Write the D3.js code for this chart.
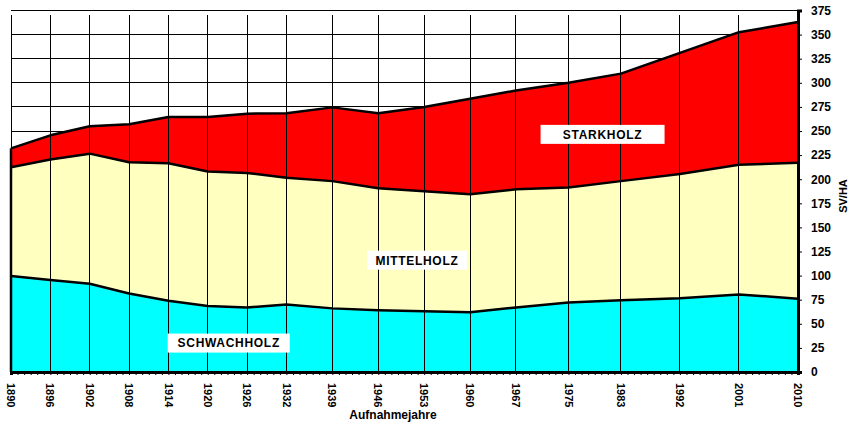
<!DOCTYPE html>
<html>
<head>
<meta charset="utf-8">
<script src="https://cdn.jsdelivr.net/npm/d3@7/dist/d3.min.js"></script>
<style>
  body { margin: 0; background: #fff; }
  text { font-family: "Liberation Sans", Arial, sans-serif; font-weight: bold; fill: #000; }
</style>
</head>
<body>
<div id="chart"></div>
<script>
// survey years
const years = [1890, 1896, 1902, 1908, 1914, 1920, 1926, 1932, 1939, 1946, 1953, 1960, 1967, 1975, 1983, 1992, 2001, 2010];
// volume per diameter class (SV/HA)
const schwachholz = [99.5, 95.5, 91.5, 81.5, 74, 68.5, 67, 70, 66, 64, 63, 62, 67, 72, 74.5, 76.5, 80.5, 76];
const mittelholz = [113, 125, 135, 136, 142.5, 139.5, 139.5, 131.5, 132, 126.5, 124.5, 122.5, 122.5, 119.5, 123.5, 129, 134.5, 141];
const starkholz = [19.5, 25, 28.5, 39.5, 48, 56.5, 61.5, 67, 76.5, 78, 87.5, 99, 102.5, 108.5, 111.5, 125.5, 137.5, 146];
const yTicks = d3.range(0, 376, 25);

const width = 857, height = 424;
const svg = d3.select("#chart").append("svg")
    .attr("width", width)
    .attr("height", height);

const x = d3.scaleLinear().domain([1890, 2010]).range([11, 798]);
const y = d3.scaleLinear().domain([0, 375]).range([372, 10.5]);

const rows = years.map((yr, i) => ({
    year: yr,
    schwach: schwachholz[i],
    mittel: mittelholz[i],
    stark: starkholz[i]
}));
const keys = ["schwach", "mittel", "stark"];
const colors = { schwach: "#00FFFF", mittel: "#FFFFC0", stark: "#FF0000" };
const series = d3.stack().keys(keys)(rows);

// horizontal gridlines (behind areas)
svg.append("g").selectAll("line")
    .data(yTicks)
    .enter().append("line")
    .attr("x1", x(1890)).attr("x2", x(2010))
    .attr("y1", d => y(d)).attr("y2", d => y(d))
    .attr("stroke", "#000")
    .attr("stroke-width", 1)
    .attr("shape-rendering", "crispEdges");

// stacked areas
const area = d3.area()
    .x((d, i) => x(years[i]))
    .y0(d => y(d[0]))
    .y1(d => y(d[1]));
svg.append("g").selectAll("path")
    .data(series)
    .enter().append("path")
    .attr("d", area)
    .attr("fill", d => colors[d.key]);

// vertical gridlines at survey years
svg.append("g").selectAll("line")
    .data(years)
    .enter().append("line")
    .attr("x1", d => x(d)).attr("x2", d => x(d))
    .attr("y1", y(375) + 4).attr("y2", y(0))
    .attr("stroke", "#000")
    .attr("stroke-width", 1)
    .attr("shape-rendering", "crispEdges");

// boundary lines of each layer
const line = d3.line()
    .x((d, i) => x(years[i]))
    .y(d => y(d[1]));
svg.append("g").selectAll("path")
    .data(series)
    .enter().append("path")
    .attr("d", line)
    .attr("fill", "none")
    .attr("stroke", "#000")
    .attr("stroke-width", 2.5)
    .attr("stroke-linejoin", "round");

// left edge of the areas
const topFirst = series[series.length - 1][0][1];
svg.append("line")
    .attr("x1", x(1890)).attr("x2", x(1890))
    .attr("y1", y(0)).attr("y2", y(topFirst))
    .attr("stroke", "#000")
    .attr("stroke-width", 2.5);

// x axis with yearly minor ticks
const xAxis = svg.append("g")
    .attr("transform", `translate(0, ${y(0)})`)
    .call(d3.axisBottom(x).tickValues(d3.range(1890, 2011, 1)).tickSize(3).tickFormat(""));
xAxis.select(".domain").attr("stroke-width", 3);
xAxis.selectAll(".tick line").attr("stroke-width", 1);

svg.append("g").selectAll("text")
    .data(years)
    .enter().append("text")
    .attr("transform", d => `translate(${x(d)}, 383) rotate(90)`)
    .attr("dy", "0.35em")
    .attr("font-size", 11)
    .text(d => d);

// right y axis
const yAxis = svg.append("g")
    .attr("transform", `translate(${x(2010)}, 0)`)
    .call(d3.axisRight(y).tickValues(yTicks).tickSize(4).tickPadding(9));
yAxis.select(".domain").attr("stroke-width", 3);
yAxis.selectAll(".tick text")
    .attr("font-size", 12)
    .attr("font-family", "Liberation Sans, Arial, sans-serif")
    .attr("font-weight", "bold")
    .attr("fill", "#000");

// axis titles
svg.append("text")
    .attr("transform", "translate(847, 196) rotate(-90)")
    .attr("text-anchor", "middle")
    .attr("font-size", 11)
    .text("SV/HA");
svg.append("text")
    .attr("x", 393).attr("y", 419)
    .attr("text-anchor", "middle")
    .attr("font-size", 12)
    .text("Aufnahmejahre");

// layer labels in white boxes
const labels = [
    { text: "SCHWACHHOLZ", year: 1923.2, value: 30, w: 122 },
    { text: "MITTELHOLZ", year: 1951.9, value: 116, w: 100 },
    { text: "STARKHOLZ", year: 1980.2, value: 246.5, w: 124 }
];
const lg = svg.append("g").selectAll("g")
    .data(labels)
    .enter().append("g")
    .attr("transform", d => `translate(${x(d.year)}, ${y(d.value)})`);
lg.append("rect")
    .attr("x", d => -d.w / 2).attr("y", -9.5)
    .attr("width", d => d.w).attr("height", 19)
    .attr("fill", "#fff");
lg.append("text")
    .attr("text-anchor", "middle")
    .attr("dy", "0.36em")
    .attr("font-size", 12)
    .attr("letter-spacing", "0.7px")
    .text(d => d.text);
</script>
</body>
</html>
